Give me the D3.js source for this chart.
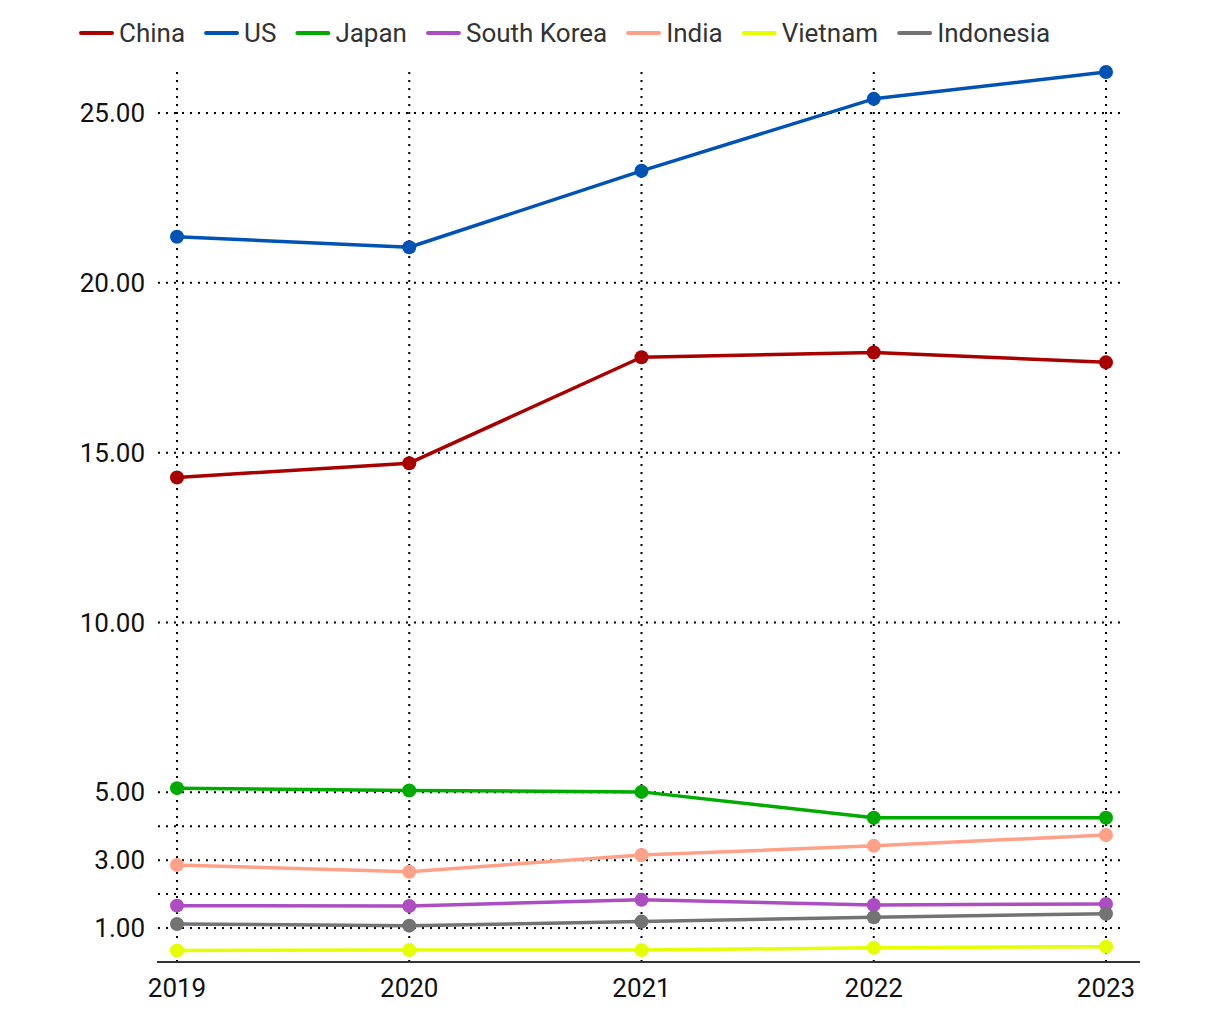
<!DOCTYPE html>
<html>
<head>
<meta charset="utf-8">
<script src="https://cdn.jsdelivr.net/npm/d3@7"></script>
<style>
  html, body { margin: 0; padding: 0; background: #fff; }
  svg { display: block; font-family: Roboto, "Noto Sans", sans-serif; }
</style>
</head>
<body>
<svg id="chart" width="1220" height="1020"></svg>
<script>
const years = ["2019", "2020", "2021", "2022", "2023"];
const seriesNames = ["China", "US", "Japan", "South Korea", "India", "Vietnam", "Indonesia"];
const seriesColors = ["#a80000", "#0052b4", "#00ab00", "#ac4ec2", "#ffa088", "#e6ff00", "#737373"];
const china = [14.27, 14.69, 17.81, 17.95, 17.66];
const us = [21.36, 21.05, 23.30, 25.42, 26.21];
const japan = [5.12, 5.05, 5.01, 4.25, 4.25];
const southKorea = [1.66, 1.65, 1.83, 1.68, 1.71];
const india = [2.86, 2.66, 3.15, 3.42, 3.74];
const vietnam = [0.34, 0.35, 0.35, 0.42, 0.45];
const indonesia = [1.12, 1.07, 1.19, 1.32, 1.42];
const gridTicks = [1, 2, 3, 4, 5, 10, 15, 20, 25];
const labeledTicks = [1, 3, 5, 10, 15, 20, 25];

const seriesValues = [china, us, japan, southKorea, india, vietnam, indonesia];
const series = seriesNames.map((name, i) => ({ name, color: seriesColors[i], values: seriesValues[i] }));

const svg = d3.select("#chart");
const FONT = 26;

const x = d3.scalePoint().domain(years).range([177, 1106]);
const yMax = d3.max(seriesValues.flat());
const y = d3.scaleLinear().domain([0, yMax]).range([962, 72]);

// horizontal gridlines
svg.append("g").selectAll("line").data(gridTicks).join("line")
  .attr("x1", 158).attr("x2", 1122)
  .attr("y1", d => y(d)).attr("y2", d => y(d))
  .attr("stroke", "#000").attr("stroke-width", 2)
  .attr("stroke-dasharray", "2,6");

// vertical gridlines
svg.append("g").selectAll("line").data(years).join("line")
  .attr("x1", d => x(d)).attr("x2", d => x(d))
  .attr("y1", y(yMax)).attr("y2", y(0))
  .attr("stroke", "#000").attr("stroke-width", 2)
  .attr("stroke-dasharray", "2,6");

// y labels
svg.append("g").selectAll("text").data(labeledTicks).join("text")
  .attr("x", 145).attr("y", d => y(d))
  .attr("dy", "0.35em")
  .attr("text-anchor", "end")
  .attr("font-size", FONT).attr("fill", "#111")
  .text(d => d3.format(".2f")(d));

// x axis line
svg.append("line")
  .attr("x1", 157).attr("x2", 1140)
  .attr("y1", y(0)).attr("y2", y(0))
  .attr("stroke", "#333").attr("stroke-width", 2);

// x labels
svg.append("g").selectAll("text").data(years).join("text")
  .attr("x", d => x(d)).attr("y", 997)
  .attr("text-anchor", "middle")
  .attr("font-size", FONT).attr("fill", "#111")
  .text(d => d);

// lines
const line = d3.line().x((d, i) => x(years[i])).y(d => y(d));
const g = svg.append("g");
series.forEach(s => {
  g.append("path").datum(s.values)
    .attr("d", line)
    .attr("fill", "none")
    .attr("stroke", s.color).attr("stroke-width", 3.5)
    .attr("stroke-linejoin", "round");
  g.selectAll(null).data(s.values).join("circle")
    .attr("cx", (d, i) => x(years[i])).attr("cy", d => y(d))
    .attr("r", 7).attr("fill", s.color);
});

// legend
const legend = svg.append("g");
let lx = 81;
const ly = 33;
series.forEach(s => {
  const item = legend.append("g");
  item.append("line")
    .attr("x1", lx).attr("x2", lx + 31)
    .attr("y1", ly).attr("y2", ly)
    .attr("stroke", s.color).attr("stroke-width", 4)
    .attr("stroke-linecap", "round");
  const t = item.append("text")
    .attr("x", lx + 38).attr("y", ly).attr("dy", "0.35em")
    .attr("font-size", FONT).attr("fill", "#333")
    .text(s.name);
  const w = t.node().getComputedTextLength();
  lx = lx + 38 + w + 21;
});
</script>
</body>
</html>
